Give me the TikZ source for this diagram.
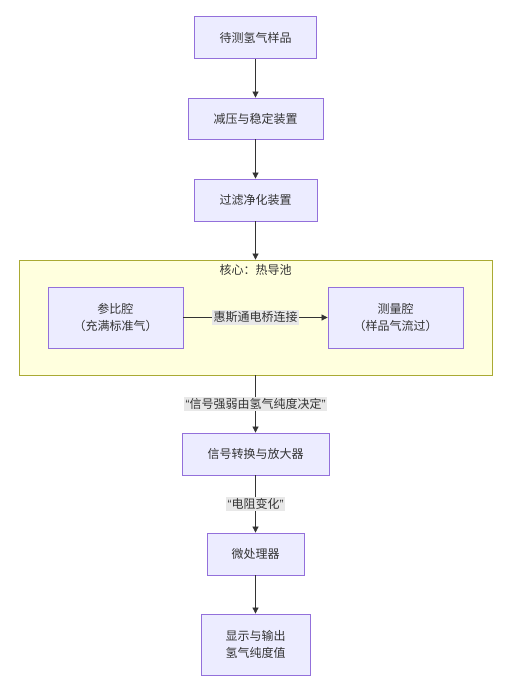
\documentclass[tikz,border=0pt]{standalone}
\usepackage{fontspec}
\setmainfont{Noto Sans CJK SC}
\newfontfamily\qfont{Liberation Sans}
\usetikzlibrary{arrows.meta}
\definecolor{nodefill}{HTML}{ECECFF}
\definecolor{nodedraw}{HTML}{9370DB}
\definecolor{clfill}{HTML}{FFFFDE}
\definecolor{cldraw}{HTML}{AAAA33}
\definecolor{txt}{HTML}{333333}
\definecolor{lblbg}{HTML}{E8E8E8}
\newcommand{\myLq}{{\qfont “}}
\newcommand{\myRq}{{\qfont ”}}
\tikzset{
  box/.style={draw=nodedraw, fill=nodefill, line width=0.8pt, text=txt, font=\fontsize{12}{17}\selectfont, align=center, inner sep=0pt},
  lbl/.style={fill=lblbg, text=txt, font=\fontsize{12}{15}\selectfont, inner sep=1.5pt},
  conn/.style={draw=txt, line width=0.7pt, -{Triangle[length=6pt,width=6pt]}},
}
\begin{document}
\begin{tikzpicture}[x=1pt,y=-1pt]
\useasboundingbox (0,0) rectangle (510,694);
\node[draw=cldraw, fill=clfill, line width=0.8pt, minimum width=473pt, minimum height=115pt, inner sep=0pt] (core) at (255.5,317.5) {};
\node[text=txt, font=\fontsize{12}{15}\selectfont] (coretitle) at (255.5,270) {核心：热导池};
\node[box, minimum width=122pt, minimum height=42pt] (s1) at (255.5,37.5) {待测氢气样品};
\node[box, minimum width=135pt, minimum height=41pt] (s2) at (255.5,118.5) {减压与稳定装置};
\node[box, minimum width=123pt, minimum height=42pt] (s3) at (255.5,200) {过滤净化装置};
\node[box, minimum width=135pt, minimum height=61pt] (ref) at (115.5,317.5) {参比腔\\（充满标准气）};
\node[box, minimum width=135pt, minimum height=61pt] (meas) at (395.5,317.5) {测量腔\\（样品气流过）};
\node[box, minimum width=147pt, minimum height=42pt] (amp) at (255.5,454) {信号转换与放大器};
\node[box, minimum width=97pt, minimum height=42pt] (mcu) at (255.5,554) {微处理器};
\node[box, minimum width=109pt, minimum height=61pt] (disp) at (255.5,644.5) {显示与输出\\氢气纯度值};
\draw[conn] (s1) -- (s2);
\draw[conn] (s2) -- (s3);
\draw[conn] (s3) -- (core);
\draw[conn] (ref) -- node[lbl] (l1) {惠斯通电桥连接} (meas);
\draw[conn] (core) -- node[lbl, pos=0.5] (l2) {\myLq 信号强弱由氢气纯度决定\myRq} (amp);
\draw[conn] (amp) -- node[lbl] (l3) {\myLq 电阻变化\myRq} (mcu);
\draw[conn] (mcu) -- (disp);
\end{tikzpicture}
\end{document}
